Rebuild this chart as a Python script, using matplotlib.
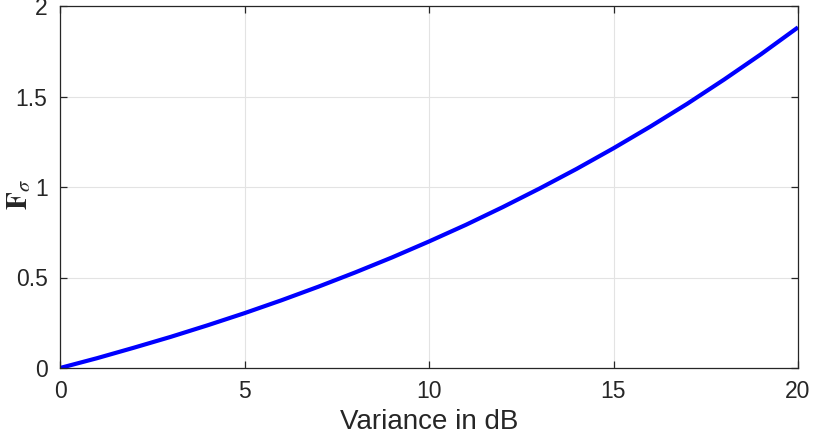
import matplotlib
matplotlib.use("Agg")
import matplotlib.pyplot as plt

# Values
variance_db = [0, 1, 2, 3, 4, 5, 6, 7, 8, 9, 10, 11, 12, 13, 14, 15, 16, 17, 18, 19, 20]
f_sigma = [0.0, 0.054, 0.112, 0.172, 0.236, 0.303, 0.374, 0.449, 0.528, 0.611, 0.699,
           0.791, 0.889, 0.992, 1.100, 1.214, 1.334, 1.460, 1.594, 1.734, 1.882]
xticks = [0, 5, 10, 15, 20]
yticks = [0, 0.5, 1, 1.5, 2]
ytick_labels = ["0", "0.5", "1", "1.5", "2"]

plt.rcParams['font.family'] = ['Liberation Sans', 'DejaVu Sans']
plt.rcParams['mathtext.fontset'] = 'stix'

fig = plt.figure(figsize=(8.15, 4.46), dpi=100)
ax = fig.add_axes([60/815, 1-368/446, (798-60)/815, (368-6)/446])

ax.plot(variance_db, f_sigma, color=(0, 0, 1), lw=3.0, solid_capstyle='butt')

ax.set_xlim(0, 20)
ax.set_ylim(0, 2)
ax.set_xticks(xticks)
ax.set_yticks(yticks)
ax.set_yticklabels(ytick_labels)

ax.grid(True, color='#e3e3e3', lw=0.8)
ax.set_axisbelow(True)
dark = '#262626'
for s in ax.spines.values():
    s.set_color(dark)
    s.set_linewidth(0.9)
ax.tick_params(direction='in', length=5, width=0.9, colors=dark, labelsize=16.5,
               top=True, right=True, pad=9)

ax.set_xlabel('Variance in dB', fontsize=20, color=dark, labelpad=4)
ax.set_ylabel(r'$\mathbf{F}_{\sigma}$', fontsize=21, color=dark, va='center')
ax.yaxis.set_label_coords(-0.055, 0.48)

fig.savefig('out.png', dpi=100)
